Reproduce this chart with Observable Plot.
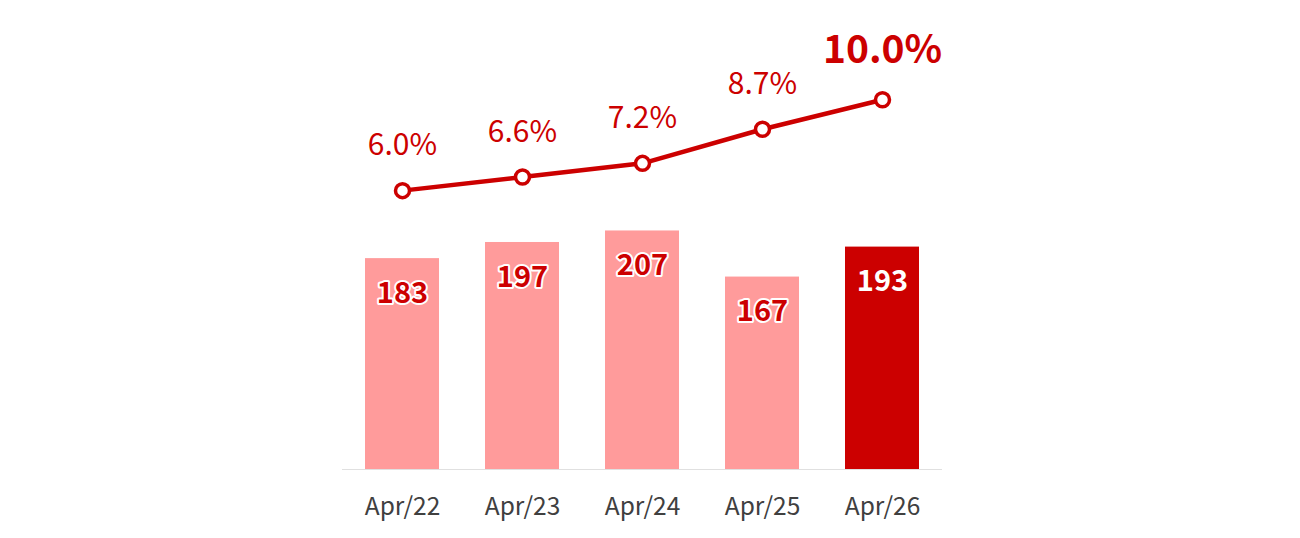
<!DOCTYPE html>
<html>
<head>
<meta charset="utf-8">
<script src="https://cdn.jsdelivr.net/npm/d3@7"></script>
<script src="https://cdn.jsdelivr.net/npm/@observablehq/plot@0.6"></script>
<style>
  html, body { margin: 0; padding: 0; background: #fff; }
  #chart svg { display: block; }
</style>
</head>
<body>
<div id="chart"></div>
<script>
const categories = ["Apr/22", "Apr/23", "Apr/24", "Apr/25", "Apr/26"];
const barValues = [183, 197, 207, 167, 193];
const rateValues = [6.0, 6.6, 7.2, 8.7, 10.0];
const rateLabels = ["6.0%", "6.6%", "7.2%", "8.7%", "10.0%"];

const RED = "#CC0000";
const PINK = "#FF9B9B";
const FONT = "'Noto Sans CJK JP', 'Noto Sans', sans-serif";

// secondary axis for the rate line, mapped onto the bar scale
const rateToY = p => 242 + (p - 6) * 19.73;

const bars = categories.map((c, i) => ({
  cat: c, value: barValues[i], last: i === categories.length - 1
}));
const rates = categories.map((c, i) => ({
  cat: c, rate: rateValues[i], y: rateToY(rateValues[i]), label: rateLabels[i], last: i === categories.length - 1
}));

const chart = Plot.plot({
  width: 1300,
  height: 538,
  marginLeft: 342,
  marginRight: 358,
  marginTop: 0,
  marginBottom: 69,
  style: { fontFamily: FONT, background: "#fff" },
  x: { domain: categories, paddingInner: 0.383, paddingOuter: 0.19, label: null },
  y: { domain: [0, 407], axis: null },
  marks: [
    Plot.barY(bars, { x: "cat", y: "value", fill: d => d.last ? RED : PINK }),
    Plot.ruleY([0], { stroke: "#e0e0e0", strokeWidth: 1.2 }),
    Plot.axisX({ tickSize: 0, tickPadding: 28, fontSize: 24.5, fill: "#404040", label: null }),
    Plot.text(bars.filter(d => !d.last), {
      x: "cat", y: "value", text: d => String(d.value), dy: 35,
      fontSize: 29, fontWeight: "bold", fill: RED, stroke: "white", strokeWidth: 4, paintOrder: "stroke"
    }),
    Plot.text(bars.filter(d => d.last), {
      x: "cat", y: "value", text: d => String(d.value), dy: 35,
      fontSize: 29, fontWeight: "bold", fill: "white"
    }),
    Plot.line(rates, { x: "cat", y: "y", stroke: RED, strokeWidth: 4.5 }),
    Plot.dot(rates, { x: "cat", y: "y", r: 7, fill: "white", stroke: RED, strokeWidth: 3.5 }),
    Plot.text(rates.filter(d => !d.last), {
      x: "cat", y: "y", text: "label", dy: -45, fontSize: 30, fill: RED
    }),
    Plot.text(rates.filter(d => d.last), {
      x: "cat", y: "y", text: "label", dy: -49, fontSize: 39, fontWeight: "bold", fill: RED
    })
  ]
});
document.getElementById("chart").appendChild(chart);
</script>
</body>
</html>
